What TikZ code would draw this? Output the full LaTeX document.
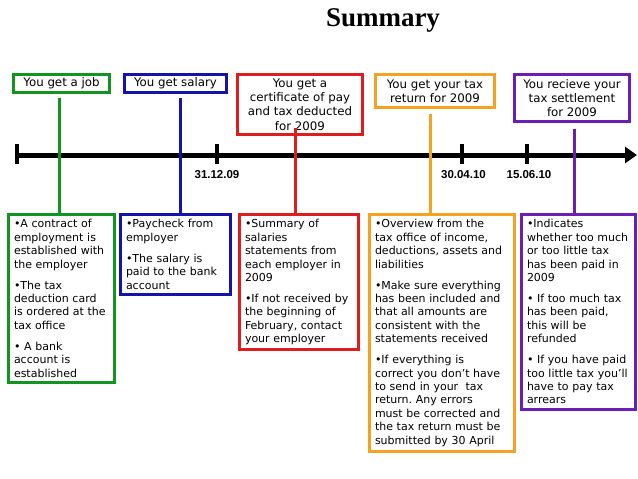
\documentclass[tikz,border=0pt]{standalone}
\usepackage{fontspec}
\setmainfont{DejaVu Sans}
\newfontfamily\titlefont{Liberation Serif}
\newfontfamily\datefont{Liberation Sans}
\usetikzlibrary{arrows.meta,positioning}
\frenchspacing

\definecolor{jobgreen}{RGB}{16,150,30}
\definecolor{salblue}{RGB}{20,20,170}
\definecolor{certred}{RGB}{222,30,30}
\definecolor{retorange}{RGB}{245,162,35}
\definecolor{setpurple}{RGB}{108,30,180}

\tikzset{
  headbox/.style={draw=#1, line width=3pt, fill=white, align=center, inner sep=1pt,
    font=\fontsize{11.8}{14.4}\selectfont},
  infobox/.style={draw=#1, line width=3pt, anchor=north west, align=left,
    inner xsep=5.5pt, inner ysep=5pt, font=\fontsize{11}{13.4}\selectfont},
  link/.style={draw=#1, line width=3pt},
  tickmark/.style={line width=4pt},
  datelabel/.style={inner sep=0pt, font=\datefont\bfseries\fontsize{11.5}{12}\selectfont}
}

\begin{document}
\begin{tikzpicture}[x=1pt, y=-1pt]
  \useasboundingbox (0,0) rectangle (638,479);

  \node[font=\titlefont\bfseries\fontsize{27}{30}\selectfont, anchor=base] (title) at (383,27) {Summary};

  % time line
  \coordinate (tstart) at (17,155);
  \coordinate (tend) at (637,155);
  \draw[line width=5pt, -{Triangle[length=12pt,width=16pt]}] (tstart) -- (tend);
  \draw[tickmark] (17,144) -- (17,164);
  \coordinate (d1) at (217,164);
  \coordinate (d2) at (462,164);
  \coordinate (d3) at (527,164);
  \draw[tickmark] (217,144) -- (d1);
  \draw[tickmark] (462,144) -- (d2);
  \draw[tickmark] (527,144) -- (d3);
  \node[datelabel, below=6pt of d1] (date1) {31.12.09};
  \node[datelabel, below=6pt of d2, xshift=1.5pt] (date2) {30.04.10};
  \node[datelabel, below=6pt of d3, xshift=2pt] (date3) {15.06.10};

  % events
  \node[headbox=jobgreen, minimum width=96pt, minimum height=18pt] (job) at (61.5,83.5) {You get a job};
  \node[headbox=salblue, minimum width=102pt, minimum height=18pt] (salary) at (175.5,83.5) {You get salary};
  \node[headbox=certred, minimum width=125pt, minimum height=60pt] (cert) at (300,104.5)
    {You get a\\certificate of pay\\and tax deducted\\for 2009};
  \node[headbox=retorange, minimum width=119pt, minimum height=33pt] (ret) at (435,91)
    {You get your tax\\return for 2009};
  \node[headbox=setpurple, minimum width=115pt, minimum height=47pt] (settle) at (572,98)
    {You recieve your\\tax settlement\\for 2009};

  % details
  \node[infobox=jobgreen, text width=95pt] (jobinfo) at (7,213)
    {•A contract of\\employment is\\established with\\the employer\\[7.6pt]
     •The tax\\deduction card\\is ordered at the\\tax office\\[7.6pt]
     • A bank\\account is\\established};
  \node[infobox=salblue, text width=99pt] (salinfo) at (119,213)
    {•Paycheck from\\employer\\[7.6pt]
     •The salary is\\paid to the bank\\account};
  \node[infobox=certred, text width=108pt] (certinfo) at (238,213)
    {•Summary of\\salaries\\statements from\\each employer in\\2009\\[7.6pt]
     •If not received by\\the beginning of\\February, contact\\your employer};
  \node[infobox=retorange, text width=134pt] (retinfo) at (368,213)
    {•Overview from the\\tax office of income,\\deductions, assets and\\liabilities\\[7.6pt]
     •Make sure everything\\has been included and\\that all amounts are\\consistent with the\\statements received\\[7.6pt]
     •If everything is\\correct you don’t have\\to send in your\ \ tax\\return. Any errors\\must be corrected and\\the tax return must be\\submitted by 30 April};
  \node[infobox=setpurple, text width=103pt] (setinfo) at (520,213)
    {•Indicates\\whether too much\\or too little tax\\has been paid in\\2009\\[7.6pt]
     • If too much tax\\has been paid,\\this will be\\refunded\\[7.6pt]
     • If you have paid\\too little tax you’ll\\have to pay tax\\arrears};

  % connectors
  \draw[link=jobgreen] ([xshift=-2.5pt,yshift=-4pt]job.south) -- ([xshift=-2.5pt]job.south |- jobinfo.north);
  \draw[link=salblue] ([xshift=4.5pt,yshift=-4pt]salary.south) -- ([xshift=4.5pt]salary.south |- salinfo.north);
  \draw[link=certred] ([xshift=-5pt,yshift=8.5pt]cert.south) -- ([xshift=-5pt]cert.south |- certinfo.north);
  \draw[link=retorange] ([xshift=-5pt,yshift=-5pt]ret.south) -- ([xshift=-5pt]ret.south |- retinfo.north);
  \draw[link=setpurple] ([xshift=2pt,yshift=-5.5pt]settle.south) -- ([xshift=2pt]settle.south |- setinfo.north);
\end{tikzpicture}
\end{document}
